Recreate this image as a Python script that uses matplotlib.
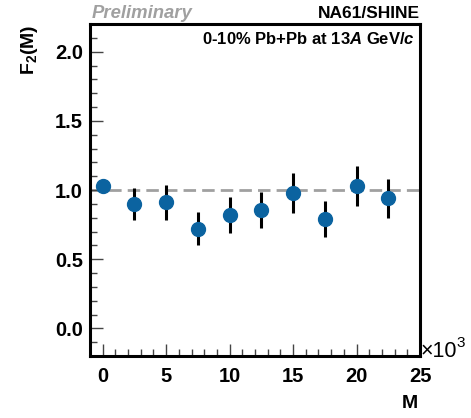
import numpy as np
import matplotlib.pyplot as plt
from matplotlib.ticker import MultipleLocator

plt.rcParams['font.family'] = ['Liberation Sans', 'DejaVu Sans']
plt.rcParams['mathtext.fontset'] = 'custom'
plt.rcParams['mathtext.rm'] = 'Liberation Sans:bold'
plt.rcParams['mathtext.bf'] = 'Liberation Sans:bold'
plt.rcParams['mathtext.it'] = 'Liberation Sans:italic:bold'

M = [0, 2.5, 5, 7.5, 10, 12.5, 15, 17.5, 20, 22.5]
F2 = [1.03, 0.90, 0.91, 0.72, 0.82, 0.855, 0.98, 0.79, 1.03, 0.94]
F2_err = [0.0, 0.115, 0.125, 0.12, 0.13, 0.13, 0.143, 0.13, 0.146, 0.14]

fig = plt.figure(figsize=(4.71, 4.18), dpi=100)
ax = fig.add_axes([90/471, 1-356/418, 330/471, 332/418])

ax.axhline(1.0, color='#a0a0a0', lw=2, ls=(0, (4.5, 2.2)), zorder=1)
ax.errorbar(M, F2, yerr=F2_err, fmt='o', color='#0b63a0', ecolor='black',
            elinewidth=2.2, capsize=0, ms=10, zorder=3)

ax.set_xlim(-1, 25)
ax.set_ylim(-0.2, 2.2)
ax.xaxis.set_major_locator(MultipleLocator(5))
ax.xaxis.set_minor_locator(MultipleLocator(1))
ax.yaxis.set_major_locator(MultipleLocator(0.5))
ax.yaxis.set_minor_locator(MultipleLocator(0.1))
ax.set_yticks([0.0, 0.5, 1.0, 1.5, 2.0])
ax.set_yticklabels(['0.0', '0.5', '1.0', '1.5', '2.0'])
ax.tick_params(which='both', direction='in', top=False, right=False,
               colors='#444444', labelcolor='black', labelsize=14.5)
ax.tick_params(which='major', length=9, width=1)
ax.tick_params(which='minor', length=5, width=1)
ax.tick_params(axis='x', pad=8)
ax.tick_params(axis='y', pad=5)
for lbl in ax.get_xticklabels() + ax.get_yticklabels():
    lbl.set_fontweight('bold')
for s in ax.spines.values():
    s.set_linewidth(2.2)

fig.text(30/471, 1-50/418, r'F$_2$(M)', rotation=90, fontsize=14,
         fontweight='bold', ha='center', va='center')
fig.text(418/471, 1-403/418, 'M', fontsize=14, fontweight='bold',
         ha='right', va='center')
# x10^3 multiplier
fig.text(421/471, 1-357/418, '×10', fontsize=15.5,
         ha='left', va='baseline')
fig.text(456/471, 1-347/418, '3', fontsize=11,
         ha='left', va='baseline')
fig.text(92/471, 1-13/418, 'Preliminary', fontsize=13.3, fontweight='bold',
         style='italic', color='#a0a0a0', ha='left', va='center')
fig.text(420/471, 1-13/418, 'NA61/SHINE', fontsize=12.5, fontweight='bold',
         ha='right', va='center')
ax.text(0.985, 0.955, r'0-10% Pb+Pb at 13$\mathit{A}$ GeV/$\mathit{c}$',
        transform=ax.transAxes, fontsize=12, fontweight='bold',
        ha='right', va='center')

plt.savefig('out.png', dpi=100)
